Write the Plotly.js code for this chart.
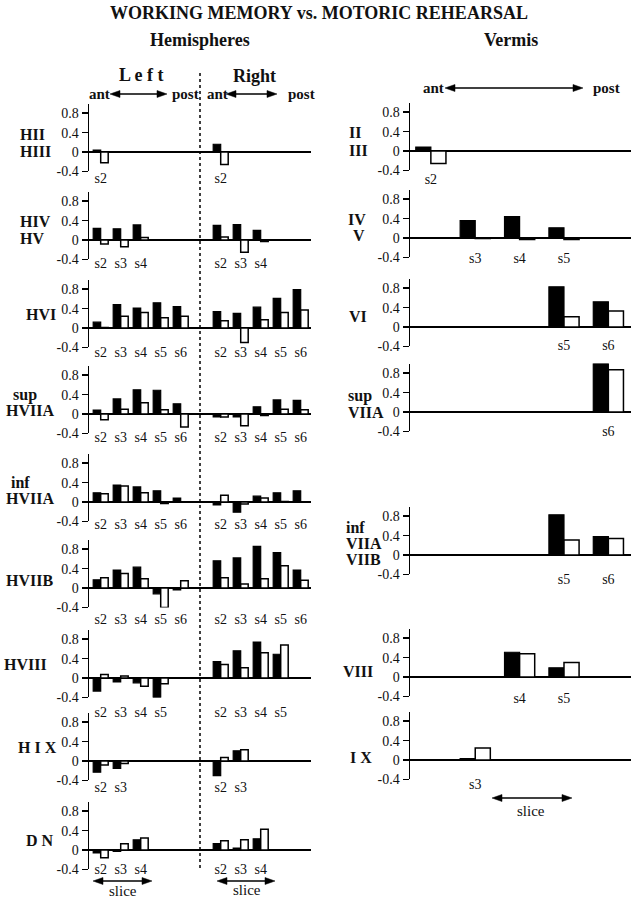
<!DOCTYPE html>
<html><head><meta charset="utf-8">
<script src="https://cdn.plot.ly/plotly-3.0.1.min.js"></script>
<style>body{margin:0;background:#fff}</style>
</head><body><div id="chart" style="width:638px;height:899px"></div>
<script>
// ---------------- DATA ----------------
const slices = ['s2','s3','s4','s5','s6'];
const hemiRegions = ['HII/HIII','HIV/HV','HVI','sup HVIIA','inf HVIIA','HVIIB','HVIII','HIX','DN'];
// black bars = working memory, white bars = motoric rehearsal
const leftWM = [
  [0.04, null, null, null, null],
  [0.24, 0.23, 0.31, null, null],
  [0.12, 0.48, 0.41, 0.52, 0.44],
  [0.08, 0.31, 0.50, 0.49, 0.21],
  [0.19, 0.35, 0.31, 0.23, 0.08],
  [0.17, 0.37, 0.43, -0.12, -0.04],
  [-0.27, -0.08, -0.10, -0.41, null],
  [-0.23, -0.15, null, null, null],
  [-0.06, -0.03, 0.21, null, null]
];
const leftMR = [
  [-0.22, null, null, null, null],
  [-0.08, -0.14, 0.05, null, null],
  [0.01, 0.24, 0.32, 0.21, 0.24],
  [-0.12, 0.10, 0.23, 0.09, -0.27],
  [0.17, 0.33, 0.19, -0.03, 0.005],
  [0.21, 0.30, 0.19, -0.40, 0.15],
  [0.07, 0.04, -0.17, -0.12, null],
  [-0.08, -0.05, null, null, null],
  [-0.16, 0.13, 0.25, null, null]
];
const rightWM = [
  [0.16, null, null, null, null],
  [0.30, 0.32, 0.20, null, null],
  [0.34, 0.30, 0.43, 0.61, 0.79],
  [-0.06, -0.06, 0.15, 0.29, 0.28],
  [-0.06, -0.21, 0.12, 0.19, 0.23],
  [0.56, 0.62, 0.86, 0.73, 0.37],
  [0.34, 0.56, 0.74, 0.49, null],
  [-0.30, 0.21, null, null, null],
  [0.13, 0.04, 0.23, null, null]
];
const rightMR = [
  [-0.26, null, null, null, null],
  [0.06, -0.25, -0.03, null, null],
  [0.15, -0.30, 0.17, 0.32, 0.37],
  [-0.06, -0.24, -0.03, 0.10, 0.09],
  [0.14, -0.04, 0.08, 0.01, 0.005],
  [0.21, 0.08, 0.19, 0.46, 0.16],
  [0.28, 0.21, 0.52, 0.68, null],
  [0.07, 0.23, null, null, null],
  [0.19, 0.21, 0.43, null, null]
];
const vermisRegions = ['II/III','IV/V','VI','sup VIIA','inf VIIA/VIIB','VIII','IX'];
const vermisWM = [
  [0.08, null, null, null, null],
  [null, 0.36, 0.44, 0.21, null],
  [null, null, null, 0.83, 0.52],
  [null, null, null, null, 1.0],
  [null, null, null, 0.83, 0.38],
  [null, null, 0.51, 0.19, null],
  [null, 0.03, null, null, null]
];
const vermisMR = [
  [-0.26, null, null, null, null],
  [null, -0.01, -0.03, -0.03, null],
  [null, null, null, 0.21, 0.33],
  [null, null, null, null, 0.87],
  [null, null, null, 0.31, 0.34],
  [null, null, 0.48, 0.30, null],
  [null, 0.25, null, null, null]
];
const yTicks = [-0.4, 0, 0.4, 0.8];
const yTickText = ['-0.4', '0', '0.4', '0.8'];

// ---------------- LAYOUT ----------------
const W = 638, H = 899;
const px = x => x / W, py = y => 1 - y / H;
const SERIF = '"Liberation Serif", "Times New Roman", Times, serif';
const PXU = 48.5; // pixels per unit on y
const hemiZero = [152, 240, 328, 414, 502, 588, 678, 761, 850];
const hemiLabelDrop = [26, 23, 24, 23, 22, 31, 34, 26, 19];
const vermZero = [151, 238, 327, 412, 555, 677, 760];
const vermLabelDrop = [28, 20, 18, 19, 24, 21, 24];

const traces = [];
const layout = {
  width: W, height: H, margin: {l: 0, r: 0, t: 0, b: 0},
  paper_bgcolor: '#fff', plot_bgcolor: 'rgba(0,0,0,0)',
  showlegend: false, barmode: 'overlay',
  font: {family: SERIF, color: '#111'},
  annotations: [], shapes: []
};
let n = 0;
function addPanel(zero, drop, xl, xr, cats, range, wm, mr, w, name) {
  n++;
  const xa = n === 1 ? 'x' : 'x' + n, ya = n === 1 ? 'y' : 'y' + n;
  const present = cats.filter((c, i) => wm[i] !== null || mr[i] !== null);
  const labels = present.map(c => c.replace(/^[LR] /, ''));
  traces.push({type: 'bar', x: cats, y: wm, xaxis: xa, yaxis: ya, name: name + ' WM',
    width: w, offset: -w, marker: {color: '#000', line: {color: '#000', width: 1.2}}, cliponaxis: true});
  traces.push({type: 'bar', x: cats, y: mr, xaxis: xa, yaxis: ya, name: name + ' MR',
    width: w, offset: 0, marker: {color: '#fff', line: {color: '#000', width: 1.5}}, cliponaxis: true});
  layout['xaxis' + (n === 1 ? '' : n)] = {
    domain: [px(xl), px(xr)], anchor: ya, type: 'category',
    categoryorder: 'array', categoryarray: cats, range: range, autorange: false,
    showline: false, showgrid: false, zeroline: false, ticks: '',
    tickmode: 'array', tickvals: present, ticktext: labels, ticklabelstandoff: drop - 29,
    tickfont: {family: SERIF, size: 14, color: '#111'}, fixedrange: true
  };
  layout['yaxis' + (n === 1 ? '' : n)] = {
    domain: [py(zero + PXU * 0.4), py(zero - PXU * 1.0)], anchor: xa,
    range: [-0.4, 1.0], autorange: false,
    showline: true, linewidth: 1.5, linecolor: '#000',
    ticks: 'outside', ticklen: 6, tickwidth: 1.5, tickcolor: '#000',
    tickmode: 'array', tickvals: yTicks, ticktext: yTickText,
    tickfont: {family: SERIF, size: 14, color: '#111'},
    zeroline: true, zerolinecolor: '#000', zerolinewidth: 1.5,
    showgrid: false, fixedrange: true
  };
}

const hemiCats = slices.map(s => 'L ' + s).concat(['mid'], slices.map(s => 'R ' + s));
hemiRegions.forEach((r, i) => {
  addPanel(hemiZero[i], hemiLabelDrop[i], 89, 311, hemiCats, [-0.585, 10.515],
    leftWM[i].concat([null], rightWM[i]), leftMR[i].concat([null], rightMR[i]), 0.375, r);
});
vermisRegions.forEach((r, i) => {
  addPanel(vermZero[i], vermLabelDrop[i], 410, 631, slices, [-0.47, 4.51], vermisWM[i], vermisMR[i], 0.34, r);
});

// ---------------- TEXT ----------------
function txt(t, x, y, size, bold, anchor) {
  layout.annotations.push({text: bold ? '<b>' + t + '</b>' : t, xref: 'paper', yref: 'paper',
    x: px(x), y: py(y), xanchor: anchor || 'left', yanchor: 'middle', showarrow: false, borderpad: 0,
    font: {family: SERIF, size: size, color: '#111'}});
}
txt('WORKING MEMORY vs. MOTORIC REHEARSAL', 319, 13, 18, true, 'center');
txt('Hemispheres', 200, 40, 18, true, 'center');
txt('Vermis', 511, 40, 18, true, 'center');
txt('L e f t', 141, 75, 18, true, 'center');
txt('Right', 254, 76, 18, true, 'center');
txt('ant', 88, 94, 15, true, 'left');
txt('post', 171, 94, 15, true, 'left');
txt('ant', 206, 94, 15, true, 'left');
txt('post', 287, 94, 15, true, 'left');
txt('ant', 422, 88, 15, true, 'left');
txt('post', 592, 88, 15, true, 'left');

// row labels
txt('HII', 19, 134, 16, true); txt('HIII', 19, 152, 16, true);
txt('HIV', 19, 221, 16, true); txt('HV', 19, 238, 16, true);
txt('HVI', 25, 315, 16, true);
txt('sup', 12, 395, 16, true); txt('HVIIA', 5, 410, 16, true);
txt('inf', 10, 482, 16, true); txt('HVIIA', 5, 498, 16, true);
txt('HVIIB', 5, 580, 16, true);
txt('HVIII', 3, 664, 16, true);
txt('H I X', 17, 747, 16, true);
txt('D N', 25, 840, 16, true);
txt('II', 348, 133, 16, true); txt('III', 348, 150, 16, true);
txt('IV', 347, 219, 16, true); txt('V', 352, 236, 16, true);
txt('VI', 348, 316, 16, true);
txt('sup', 347, 396, 16, true); txt('VIIA', 347, 412, 16, true);
txt('inf', 345, 527, 16, true); txt('VIIA', 345, 543, 16, true); txt('VIIB', 345, 559, 16, true);
txt('VIII', 342, 671, 16, true);
txt('I X', 349, 757, 16, true);

txt('slice', 123, 891, 15, false, 'center');
txt('slice', 247, 890, 15, false, 'center');
txt('slice', 531, 811, 15, false, 'center');

// ---------------- SHAPES ----------------
function dblArrow(x1, x2, y) {
  layout.shapes.push({type: 'line', xref: 'paper', yref: 'paper', x0: px(x1 + 4), x1: px(x2 - 4), y0: py(y), y1: py(y),
    line: {color: '#000', width: 1.5}});
  const hl = 10, hh = 3.5;
  const tri = (tip, dir) => 'M ' + px(tip) + ' ' + py(y) + ' L ' + px(tip + dir * hl) + ' ' + py(y - hh) +
    ' L ' + px(tip + dir * hl) + ' ' + py(y + hh) + ' Z';
  [tri(x1, 1), tri(x2, -1)].forEach(p => layout.shapes.push({type: 'path', xref: 'paper', yref: 'paper', path: p,
    fillcolor: '#000', line: {color: '#000', width: 0.5}}));
}
dblArrow(110, 167, 94);
dblArrow(226, 277, 94);
dblArrow(445, 583, 88);
dblArrow(93, 152, 881);
dblArrow(217, 275, 881);
dblArrow(492, 572, 798);
layout.shapes.push({type: 'line', xref: 'paper', yref: 'paper', x0: px(200), x1: px(200), y0: py(73), y1: py(869),
  line: {color: '#000', width: 1.5, dash: 'dot'}});

Plotly.newPlot('chart', traces, layout, {staticPlot: true, displayModeBar: false});
</script></body></html>
